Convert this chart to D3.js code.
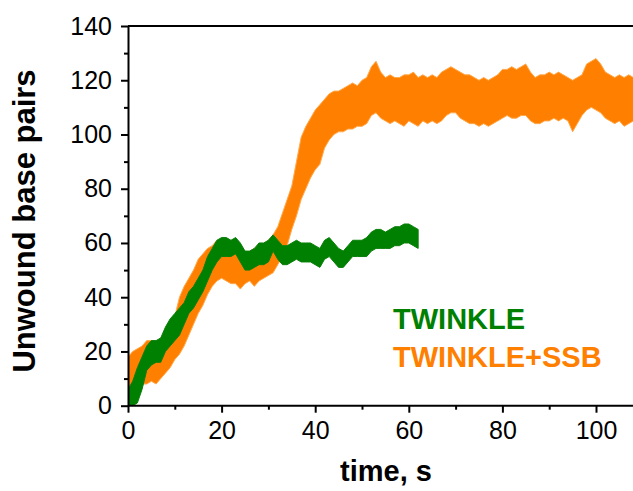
<!DOCTYPE html>
<html>
<head>
<meta charset="utf-8">
<script src="https://cdn.jsdelivr.net/npm/d3@7"></script>
<style>
  html, body { margin: 0; padding: 0; background: #fff; }
  svg { display: block; }
  .axis text { font-family: "Liberation Sans", Arial, sans-serif; font-size: 25px; fill: #000; }
  .axis path, .axis line { stroke: #000; stroke-width: 2px; }
  .title { font-family: "Liberation Sans", Arial, sans-serif; font-weight: bold; }
</style>
</head>
<body>
<svg id="chart"></svg>
<script>
// TWINKLE alone: band of the trace (low / high edge), read every second
const twinkleTime = [0,1,2,3,4,5,6,7,8,9,10,11,12,13,14,15,16,17,18,19,20,21,22,23,24,25,26,27,28,29,30,
  31,32,33,34,35,36,37,38,39,40,41,42,43,44,45,46,47,48,49,50,51,52,53,54,55,56,57,58,59,60,61,62];
const twinkleLow = [0,0,1,6,13,15,16,16,20,22,24,26,30,34,36,39,42,46,50,53,55,55,55,56,53,50,50,51,52,52,53,
  57,54,52,52,53,54,53,53,53,52,51,54,55,53,51,51,53,55,55,55,55,57,58,58,58,58,59,59,60,60,59,58];
const twinkleHigh = [6,9,14,18,22,24,24,25,29,32,34,36,38,42,44,47,50,55,58,61,62,62,61,62,60,57,57,58,60,60,61,
  63,61,59,59,60,61,60,60,60,59,58,61,62,60,58,57,59,61,61,61,62,64,65,65,64,65,66,66,67,67,66,65];

// TWINKLE + SSB
const ssbTime = [0,1,2,3,4,5,6,7,8,9,10,11,12,13,14,15,16,17,18,19,20,21,22,23,24,25,26,27,28,29,30,
  31,32,33,34,35,36,37,38,39,40,41,42,43,44,45,46,47,48,49,50,51,52,53,54,55,56,57,58,59,60,
  61,62,63,64,65,66,67,68,69,70,71,72,73,74,75,76,77,78,79,80,81,82,83,84,85,86,87,88,89,90,
  91,92,93,94,95,96,97,98,99,100,101,102,103,104,105,106,107,108];
const ssbLow = [3,7,9,8,8,9,8,10,12,14,17,19,22,26,30,34,37,41,44,46,47,46,45,45,43,45,46,44,46,47,48,
  49,52,55,59,65,70,76,80,84,87,89,95,98,100,101,101,102,102,103,103,104,107,108,106,105,104,105,104,103,105,
  104,103,105,104,105,104,105,107,108,108,106,105,104,104,103,104,103,104,105,106,107,106,106,107,107,105,104,104,105,105,
  106,105,106,105,101,104,107,109,110,109,108,106,105,104,105,103,104,105];
const ssbHigh = [18,20,21,22,24,24,22,25,27,30,33,40,44,47,50,54,56,58,59,61,60,59,58,57,57,56,57,58,58,59,61,
  63,66,71,76,81,90,99,103,106,109,111,113,115,116,116,117,118,119,118,120,121,125,127,123,121,122,121,121,122,122,
  123,121,122,121,122,121,123,124,125,124,123,122,122,121,120,121,120,121,122,124,124,125,124,125,126,123,121,122,122,123,
  122,123,122,121,120,121,122,126,127,128,126,123,122,121,122,121,122,121];

const xTicks = [0, 20, 40, 60, 80, 100];
const xMinor = [10, 30, 50, 70, 90];
const yTicks = [0, 20, 40, 60, 80, 100, 120, 140];
const yMinor = [10, 30, 50, 70, 90, 110, 130];

const width = 633, height = 491;
const margin = { top: 26, left: 128, bottom: 85.3 };

const svg = d3.select('#chart')
  .attr('width', width)
  .attr('height', height);

const x = d3.scaleLinear().domain([0, 108]).range([margin.left, margin.left + 4.68 * 108]);
const y = d3.scaleLinear().domain([0, 140]).range([height - margin.bottom, margin.top]);

svg.append('clipPath').attr('id', 'plot')
  .append('rect')
  .attr('x', margin.left).attr('y', margin.top)
  .attr('width', width - margin.left).attr('height', y(0) - margin.top);

const band = (time, low, high) => d3.area()
  .x((d, i) => x(time[i]))
  .y0((d, i) => y(low[i]))
  .y1((d, i) => y(high[i]))(time);

const traces = svg.append('g').attr('clip-path', 'url(#plot)');

traces.append('path')
  .attr('d', band(ssbTime, ssbLow, ssbHigh))
  .attr('fill', '#ff8000')
  .attr('stroke', '#ffa94d')
  .attr('stroke-width', 1);

traces.append('path')
  .attr('d', band(twinkleTime, twinkleLow, twinkleHigh))
  .attr('fill', '#008000')
  .attr('stroke', '#0a7f0a')
  .attr('stroke-width', 1);

// axes
svg.append('g').attr('class', 'axis')
  .attr('transform', `translate(0,${y(0)})`)
  .call(d3.axisBottom(x).tickValues(xTicks).tickSize(7).tickSizeOuter(0).tickPadding(9))
  .call(g => g.select('.domain').attr('d', `M${margin.left},0H${width}`));

svg.append('g').attr('class', 'axis')
  .attr('transform', `translate(0,${y(0)})`)
  .call(d3.axisBottom(x).tickValues(xMinor).tickSize(4).tickFormat(''))
  .call(g => g.select('.domain').remove());

svg.append('g').attr('class', 'axis')
  .attr('transform', `translate(${margin.left},0)`)
  .call(d3.axisLeft(y).tickValues(yTicks).tickSize(7).tickSizeOuter(0).tickPadding(9));

svg.append('g').attr('class', 'axis')
  .attr('transform', `translate(${margin.left},0)`)
  .call(d3.axisLeft(y).tickValues(yMinor).tickSize(4).tickFormat(''))
  .call(g => g.select('.domain').remove());

// top frame line
svg.append('line')
  .attr('x1', margin.left).attr('x2', width)
  .attr('y1', margin.top).attr('y2', margin.top)
  .attr('stroke', '#000').attr('stroke-width', 2);

// axis titles
svg.append('text')
  .attr('class', 'title')
  .attr('transform', 'translate(35,221) rotate(-90)')
  .attr('text-anchor', 'middle')
  .style('font-size', '31px')
  .text('Unwound base pairs');

svg.append('text')
  .attr('class', 'title')
  .attr('x', 386).attr('y', 481)
  .attr('text-anchor', 'middle')
  .style('font-size', '29px')
  .text('time, s');

// legend
svg.append('text')
  .attr('class', 'title')
  .attr('x', 393).attr('y', 329)
  .attr('fill', '#008000')
  .style('font-size', '29px')
  .text('TWINKLE');

svg.append('text')
  .attr('class', 'title')
  .attr('x', 393).attr('y', 367)
  .attr('fill', '#ff8000')
  .style('font-size', '29px')
  .text('TWINKLE+SSB');
</script>
</body>
</html>
